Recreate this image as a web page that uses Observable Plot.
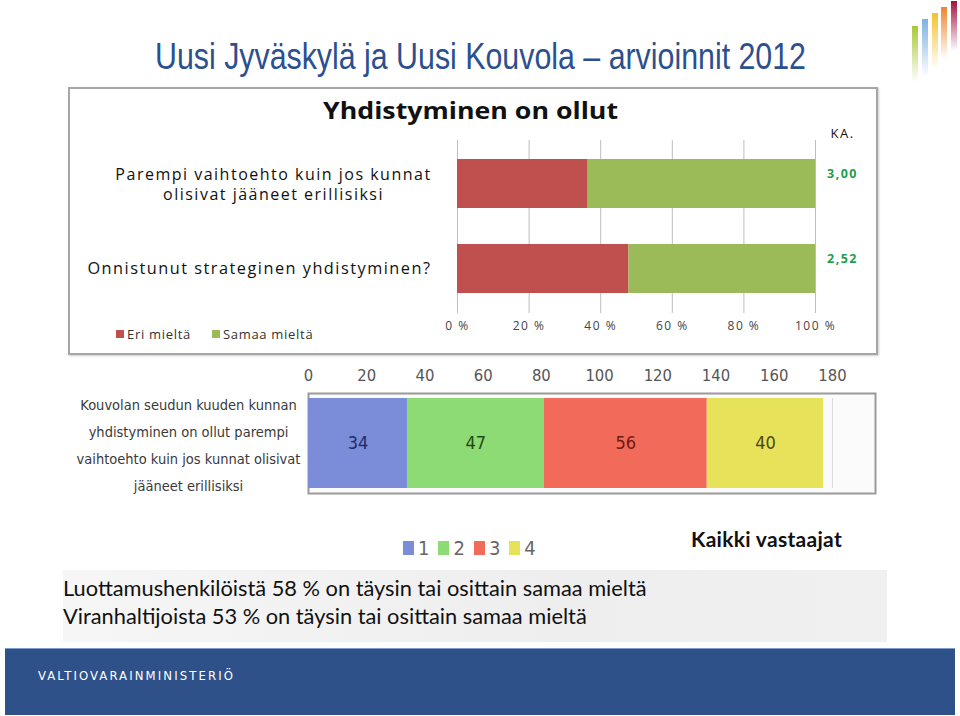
<!DOCTYPE html>
<html>
<head>
<meta charset="utf-8">
<script src="https://cdn.jsdelivr.net/npm/d3@7"></script>
<script src="https://cdn.jsdelivr.net/npm/@observablehq/plot@0.6"></script>
<style>
  html, body { margin: 0; padding: 0; background: #fff; }
  #slide { position: relative; width: 960px; height: 716px; overflow: hidden; background: #fff; font-family: "Open Sans", sans-serif; }
  .abs { position: absolute; }
  .narrow { font-family: "DejaVu Sans Condensed", "Liberation Sans", sans-serif; font-stretch: condensed; }
  #title { left: 155px; top: 38px; font-family: "Liberation Sans", Arial, sans-serif; font-size: 37.5px; color: #2c4f8f; white-space: nowrap; line-height: 1; transform-origin: 0 0; }
  #panel { left: 68px; top: 87px; width: 806px; height: 264px; border: 2px solid #a6a6a6; box-shadow: 1px 1px 2px #ccc; }
  #topTitle { left: 323px; top: 96px; font-size: 24px; font-weight: 700; color: #111; white-space: nowrap; line-height: 1.2; transform-origin: 0 0; }
  .logo { position: absolute; width: 6px; }
  #footer { left: 5px; top: 648px; width: 950px; height: 66px; background: #2f5189; border-top: 1px solid #7f9cc9; }
  #footerText { left: 33px; top: 19px; color: #fff; font-size: 13px; letter-spacing: 2.1px; white-space: nowrap; }
  #band { left: 63px; top: 570px; width: 824px; height: 72px; background: linear-gradient(90deg, #f6f6f6, #eeeeee 60%, #f0f0f0); }
  .leg { display: flex; align-items: center; white-space: nowrap; }
  .sw { display: inline-block; }
</style>
</head>
<body>
<div id="slide">
  <div id="title" class="abs">Uusi Jyväskylä ja Uusi Kouvola – arvioinnit 2012</div>
  <div class="logo" style="left:912px;top:26px;height:56px;background:linear-gradient(#a8c838,rgba(168,200,56,0));"></div>
  <div class="logo" style="left:922px;top:19px;height:58px;background:linear-gradient(#7fb1e2,rgba(127,177,226,0));"></div>
  <div class="logo" style="left:932px;top:13px;height:56px;background:linear-gradient(#f3c230,rgba(243,194,48,0));"></div>
  <div class="logo" style="left:941px;top:7px;height:52px;background:linear-gradient(#ec8630,rgba(236,134,48,0));"></div>
  <div class="logo" style="left:951px;top:1px;height:50px;background:linear-gradient(#a3123f,rgba(163,18,63,0));"></div>

  <div id="panel" class="abs"></div>
  <div id="topTitle" class="abs">Yhdistyminen on ollut</div>
  <div id="topChart" class="abs" style="left:69px;top:88px;"></div>
  <div id="topLegend" class="abs leg" style="left:116px;top:325px;font-size:13px;letter-spacing:0.7px;color:#333;"></div>

  <div id="band" class="abs"></div>
  <div id="bottomChart" class="abs" style="left:60px;top:355px;"></div>
  <div id="bottomLegend" class="abs leg narrow" style="left:403px;top:536px;font-size:20px;color:#666;"></div>
  <div class="abs" style="left:691px;top:526px;font-family:Lato,sans-serif;font-weight:700;font-size:21px;letter-spacing:0.3px;color:#111;white-space:nowrap;">Kaikki vastaajat</div>
  <div class="abs" style="left:63px;top:574px;font-family:Lato,sans-serif;font-size:21.8px;color:#111;white-space:nowrap;line-height:28px;">Luottamushenkilöistä 58 % on täysin tai osittain samaa mieltä<br>Viranhaltijoista 53 % on täysin tai osittain samaa mieltä</div>

  <div id="footer" class="abs"><div id="footerText" class="abs narrow">VALTIOVARAINMINISTERIÖ</div></div>
</div>
<script>
// ---------- Top chart data ----------
const topQuestions = ["Parempi vaihtoehto kuin jos kunnat\nolisivat jääneet erillisiksi", "Onnistunut strateginen yhdistyminen?"];
const topCategories = ["Eri mieltä", "Samaa mieltä"];
const eriMielta = [36.5, 47.9];
const samaaMielta = [63.5, 52.1];
const kaValues = ["3,00", "2,52"];
const pctTicks = [0, 20, 40, 60, 80, 100];
const topColors = ["#c0504d", "#9bbb59"];

// ---------- Bottom chart data ----------
const bottomQuestion = "Kouvolan seudun kuuden kunnan\nyhdistyminen on ollut parempi\nvaihtoehto kuin jos kunnat olisivat\njääneet erillisiksi";
const answers = ["1", "2", "3", "4"];
const counts = [34, 47, 56, 40];
const countTicks = [0, 20, 40, 60, 80, 100, 120, 140, 160, 180];
const bottomColors = ["#7b8cd8", "#8ddb74", "#f26a59", "#e6e35a"];
const labelColors = ["#1d2c6a", "#1f4a12", "#6e1b12", "#4b4812"];

const narrow = '"DejaVu Sans Condensed", "Liberation Sans", sans-serif';

// titles: fit to the reference widths by horizontal scaling
function fitWidth(id, target) {
  const el = document.getElementById(id);
  const w = el.getBoundingClientRect().width;
  el.style.transform = `scaleX(${target / w})`;
}
fitWidth("title", 651);
fitWidth("topTitle", 295);

// ---------- Top chart ----------
const topRows = topQuestions.flatMap((q, i) => [
  {q, cat: topCategories[0], v: eriMielta[i]},
  {q, cat: topCategories[1], v: samaaMielta[i]}
]);
const kaRows = topQuestions.map((q, i) => ({q, ka: kaValues[i]}));

const topPlot = Plot.plot({
  width: 806, height: 266,
  marginLeft: 388, marginRight: 60, marginTop: 52, marginBottom: 41,
  style: {background: "transparent", fontFamily: "Open Sans, sans-serif", overflow: "visible", letterSpacing: "1.5px"},
  x: {domain: [0, 100], axis: null, label: null},
  y: {domain: topQuestions, paddingInner: 0.42, paddingOuter: 0.22, axis: null, label: null},
  color: {type: "identity"},
  marks: [
    Plot.gridX(pctTicks, {stroke: "#bdbdbd", strokeOpacity: 1}),
    Plot.barX(topRows, Plot.stackX({x: "v", y: "q", fill: d => topColors[topCategories.indexOf(d.cat)], order: topCategories})),
    Plot.axisX(pctTicks, {anchor: "bottom", label: null, tickSize: 0, tickPadding: 8, tickFormat: d => d + " %", fontSize: 12, fill: "#444"}),
    Plot.text([topQuestions[0]], {y: d => d, text: d => d, frameAnchor: "left", dx: -184, textAnchor: "middle", fontSize: 16, lineHeight: 1.24, fill: "#111"}),
    Plot.text([topQuestions[1]], {y: d => d, text: d => d, frameAnchor: "left", dx: -26, textAnchor: "end", fontSize: 16.3, fill: "#111"}),
    Plot.text(kaRows, {y: "q", text: "ka", frameAnchor: "right", dx: 27, dy: -10, textAnchor: "middle", fontSize: 12.5, fontWeight: 700, fill: "#1f9e4a"}),
    Plot.text(["KA."], {text: d => d, frameAnchor: "top-right", dx: 27, dy: -12, textAnchor: "middle", fontSize: 13, fill: "#111"})
  ]
});
document.getElementById("topChart").appendChild(topPlot);

// top legend
const tl = document.getElementById("topLegend");
topCategories.forEach((c, i) => {
  const s = document.createElement("span");
  s.className = "sw";
  s.style.cssText = `width:8px;height:8px;background:${topColors[i]};margin-right:3px;margin-left:${i ? 21 : 0}px;`;
  tl.appendChild(s);
  tl.appendChild(document.createTextNode(c));
});

// ---------- Bottom chart ----------
const bottomRows = answers.map((a, i) => ({q: bottomQuestion, a, v: counts[i]}));
const bottomPlot = Plot.plot({
  width: 830, height: 145,
  marginLeft: 248, marginRight: 15, marginTop: 38, marginBottom: 7,
  style: {background: "transparent", fontFamily: narrow, overflow: "visible"},
  x: {domain: [0, 194.8], axis: null, label: null},
  y: {domain: [bottomQuestion], padding: 0, axis: null, label: null},
  color: {type: "identity"},
  marks: [
    Plot.frame({fill: "#fbfbfb", stroke: "#9a9a9a", strokeWidth: 2}),
    Plot.gridX(countTicks.slice(1), {stroke: "#d9d9d9", strokeOpacity: 1, insetTop: 5, insetBottom: 5}),
    Plot.barX(bottomRows, Plot.stackX({x: "v", y: "q", fill: d => bottomColors[answers.indexOf(d.a)], insetTop: 5, insetBottom: 5})),
    Plot.text(bottomRows, Plot.stackX({x: "v", y: "q", text: "v", fill: d => labelColors[answers.indexOf(d.a)], fontSize: 18, fontFamily: narrow})),
    Plot.axisX(countTicks, {anchor: "top", label: null, tickSize: 0, tickPadding: 13, fontSize: 16.5, fill: "#555", fontFamily: narrow}),
    Plot.text([bottomQuestion], {y: d => d, text: d => d, frameAnchor: "left", dx: -120, dy: -2, textAnchor: "middle", fontSize: 14.5, lineHeight: 1.86, fill: "#3a3a3a", fontFamily: narrow})
  ]
});
document.getElementById("bottomChart").appendChild(bottomPlot);

// bottom legend
const bl = document.getElementById("bottomLegend");
answers.forEach((a, i) => {
  const s = document.createElement("span");
  s.className = "sw";
  s.style.cssText = `width:11px;height:14px;background:${bottomColors[i]};margin-right:4px;margin-left:${i ? 9 : 0}px;`;
  bl.appendChild(s);
  bl.appendChild(document.createTextNode(a));
});
</script>
</body>
</html>
